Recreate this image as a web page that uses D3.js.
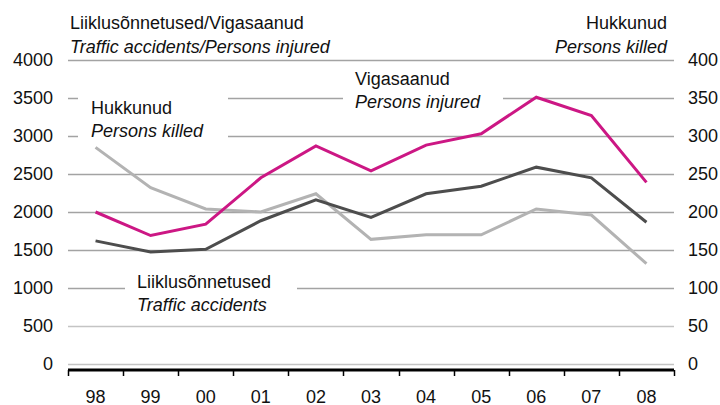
<!DOCTYPE html>
<html>
<head>
<meta charset="utf-8">
<script src="https://cdn.jsdelivr.net/npm/d3@7"></script>
<style>
 body{margin:0;background:#fff;}
 svg{font-family:"Liberation Sans",Arial,sans-serif;}
</style>
</head>
<body>
<div id="chart"></div>
<script>
// years on the x axis
const years = ['98','99','00','01','02','03','04','05','06','07','08'];
// left axis series
const injured = [2000,1690,1840,2450,2870,2540,2880,3030,3510,3270,2390];
const accidents = [1620,1475,1510,1885,2160,1930,2240,2340,2590,2450,1865];
// right axis series
const killed = [285,232,204,200,224,164,170,170,204,196,132];
// tick labels
const leftTicks = [0,500,1000,1500,2000,2500,3000,3500,4000];
const rightTicks = [0,50,100,150,200,250,300,350,400];

const width = 720, height = 405;
const x0 = 68, x1 = 674, yTop = 60, yBottom = 364;
const fontSize = 18;

const svg = d3.select('#chart').append('svg')
    .attr('width', width)
    .attr('height', height);

const xScale = d3.scaleBand()
    .domain(years)
    .range([x0, x1]);

const yLeft = d3.scaleLinear()
    .domain([0, 4000])
    .range([yBottom, yTop]);

const yRight = d3.scaleLinear()
    .domain([0, 400])
    .range([yBottom, yTop]);

// grid lines, some of them broken where the series labels sit
const gaps = {
 3500: [[78,228],[343,503]],
 3000: [[78,228]],
 1000: [[125,297]]
};
const grid = svg.append('g').attr('class','grid');
leftTicks.forEach(t => {
 const y = Math.round(yLeft(t)) + 0.5;
 let segs = [[x0, x1]];
 (gaps[t] || []).forEach(g => {
  segs = segs.flatMap(s => {
   if (g[1] <= s[0] || g[0] >= s[1]) return [s];
   const out = [];
   if (g[0] > s[0]) out.push([s[0], g[0]]);
   if (g[1] < s[1]) out.push([g[1], s[1]]);
   return out;
  });
 });
 segs.forEach(s => {
  grid.append('line')
      .attr('x1', s[0]).attr('x2', s[1])
      .attr('y1', y).attr('y2', y)
      .attr('stroke', (t === 0 || t === 500) ? '#c4c4c4' : '#a3a3a3')
      .attr('stroke-width', 1.5);
 });
});

// left axis labels
svg.append('g')
    .attr('transform', 'translate(53,0)')
    .call(d3.axisLeft(yLeft).tickValues(leftTicks).tickFormat(d3.format('d')).tickSize(0).tickPadding(0))
    .call(g => g.select('.domain').remove())
    .selectAll('text')
    .attr('font-size', fontSize)
    .attr('font-family', '"Liberation Sans",Arial,sans-serif')
    .attr('fill', '#111');

// right axis labels
svg.append('g')
    .attr('transform', 'translate(688,0)')
    .call(d3.axisRight(yRight).tickValues(rightTicks).tickFormat(d3.format('d')).tickSize(0).tickPadding(0))
    .call(g => g.select('.domain').remove())
    .selectAll('text')
    .attr('font-size', fontSize)
    .attr('font-family', '"Liberation Sans",Arial,sans-serif')
    .attr('fill', '#111');

// bottom axis: thick black line with ticks at band edges
const axisY = 370;
svg.append('line')
    .attr('x1', x0).attr('x2', x1)
    .attr('y1', axisY).attr('y2', axisY)
    .attr('stroke', '#000')
    .attr('stroke-width', 3);

const edges = years.map(d => xScale(d)).concat([xScale(years[years.length-1]) + xScale.bandwidth()]);
svg.append('g').selectAll('line')
    .data(edges)
    .join('line')
    .attr('x1', d => Math.round(d) + 0.5).attr('x2', d => Math.round(d) + 0.5)
    .attr('y1', axisY).attr('y2', 376)
    .attr('stroke', '#000')
    .attr('stroke-width', 1.5);

svg.append('g').selectAll('text')
    .data(years)
    .join('text')
    .attr('x', d => xScale(d) + xScale.bandwidth() / 2)
    .attr('y', 403)
    .attr('text-anchor', 'middle')
    .attr('font-size', fontSize)
    .attr('fill', '#111')
    .text(d => d);

// lines
const cx = (d, i) => xScale(years[i]) + xScale.bandwidth() / 2;
const lineLeft = d3.line().x(cx).y(d => yLeft(d));
const lineRight = d3.line().x(cx).y(d => yRight(d));

svg.append('path')
    .datum(killed)
    .attr('fill', 'none')
    .attr('stroke', '#b3b3b3')
    .attr('stroke-width', 3)
    .attr('d', lineRight);

svg.append('path')
    .datum(accidents)
    .attr('fill', 'none')
    .attr('stroke', '#4d4d4d')
    .attr('stroke-width', 3)
    .attr('d', lineLeft);

svg.append('path')
    .datum(injured)
    .attr('fill', 'none')
    .attr('stroke', '#cc1784')
    .attr('stroke-width', 3)
    .attr('d', lineLeft);

// labels
function label(xp, y, anchor, l1, l2) {
 const g = svg.append('g').attr('font-size', fontSize).attr('fill', '#111').attr('text-anchor', anchor);
 g.append('text').attr('x', xp).attr('y', y).text(l1);
 g.append('text').attr('x', xp).attr('y', y + 23.5).attr('font-style', 'italic').text(l2);
}
label(70, 29, 'start', 'Liiklusõnnetused/Vigasaanud', 'Traffic accidents/Persons injured');
label(667, 29, 'end', 'Hukkunud', 'Persons killed');
label(91, 113.5, 'start', 'Hukkunud', 'Persons killed');
label(355, 84.5, 'start', 'Vigasaanud', 'Persons injured');
label(137, 287.5, 'start', 'Liiklusõnnetused', 'Traffic accidents');
</script>
</body>
</html>
